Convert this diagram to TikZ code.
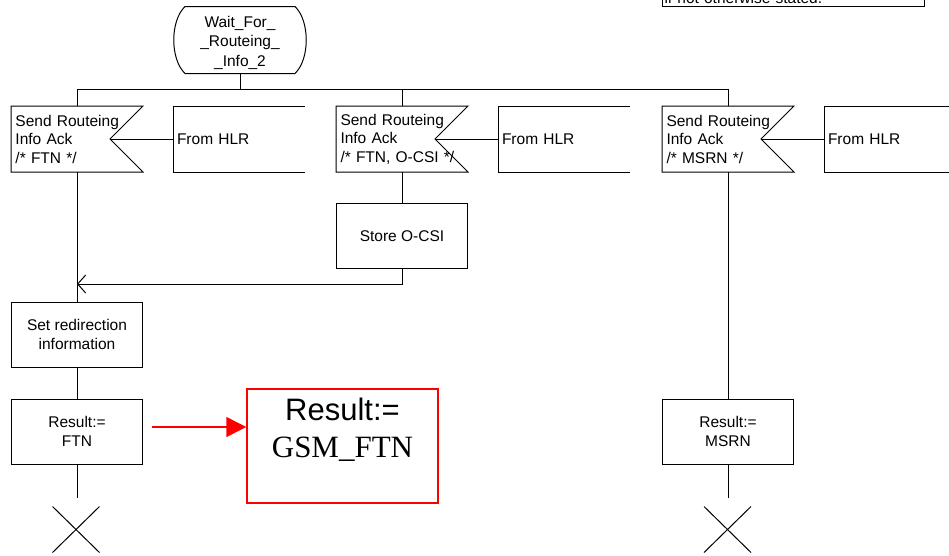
\documentclass[tikz,border=0pt]{standalone}
\usepackage{fontspec}
\setmainfont{Liberation Sans}
\newfontfamily\serifrm{Liberation Serif}
\usetikzlibrary{calc,arrows.meta,shapes.misc}

\begin{document}
\begin{tikzpicture}[x=1pt,y=-1pt,line width=1pt,
  base/.style={font=\fontsize{15.5}{18.5}\selectfont, inner sep=0pt},
  statebox/.style={font=\fontsize{15.5}{19.5}\selectfont, inner sep=0pt, rectangle, minimum width=131pt, minimum height=66pt, align=center},
  inbox/.style={base, rectangle, minimum width=131pt, minimum height=65pt, text width=123pt, inner xsep=4pt, align=left},
  frombox/.style={base, rectangle, minimum width=130pt, minimum height=65pt, text width=124pt, inner xsep=3pt, align=left},
  taskbox/.style={base, draw, rectangle, minimum width=131pt, minimum height=65pt, align=center},
  stopx/.style={cross out, draw, inner sep=0pt, minimum width=46pt, minimum height=45pt},
  joinarrow/.style={-{Straight Barb[length=8pt,width=18pt]}},
  redarrow/.style={draw=red, line width=1.5pt, -{Triangle[length=20pt,width=20pt,fill=red]}},
  notebox/.style={base, draw, rectangle, text width=258pt, inner xsep=2pt, inner ysep=3.5pt, text depth=0pt, align=left, anchor=south west}
]
\useasboundingbox (0,0) rectangle (949,555);
\clip (0,0) rectangle (949,555);

% note box (partly outside the page)
\node[notebox] (note) at (662,7) {if not otherwise stated.};

% state (text sits 2.5px below the centre of its outline)
\node[statebox] (st) at (240,42.5) {Wait\_For\_\\\_Routeing\_\\\_Info\_2};
\draw ($(st.north west)+(11,-2.5)$) -- ($(st.north east)+(-11,-2.5)$)
  .. controls ($(st.north east)+(4,12)$) and ($(st.south east)+(4,-17)$) .. ($(st.south east)+(-11,-2.5)$)
  -- ($(st.south west)+(11,-2.5)$)
  .. controls ($(st.south west)+(-4,-17)$) and ($(st.north west)+(-4,12)$) .. cycle;
\coordinate (st-bottom) at ($(st.south)+(0,-2.5)$);

% inputs
\node[inbox] (in1) at (77,139) {Send Routeing\\Info Ack\\/* FTN */};
\node[inbox] (in2) at (402,139) {Send Routeing\\Info Ack\\/* FTN, O-CSI */};
\node[inbox] (in3) at (728,139) {Send Routeing\\Info Ack\\/* MSRN */};
\foreach \n in {in1,in2,in3}{
  \draw (\n.north west) -- (\n.north east) -- ($(\n.east)+(-33,0)$) -- (\n.south east) -- (\n.south west) -- cycle;
  \coordinate (\n-notch) at ($(\n.east)+(-33,0)$);
}

% from HLR
\node[frombox] (fr1) at (239,139) {From HLR};
\node[frombox] (fr2) at (564,139) {From HLR};
\node[frombox] (fr3) at (890,139) {From HLR};
\foreach \n in {fr1,fr2,fr3}{
  \draw (\n.north east) -- (\n.north west) -- (\n.south west) -- (\n.south east);
}
\draw (in1-notch) -- (fr1.west);
\draw (in2-notch) -- (fr2.west);
\draw (in3-notch) -- (fr3.west);

% tasks
\node[taskbox] (store) at (402,236) {Store O-CSI};
\node[taskbox] (set) at (77,334.5) {Set redirection\\information};
\node[taskbox] (res1) at (77,431.5) {Result:=\\FTN};
\node[taskbox] (res3) at (728,431.5) {Result:=\\MSRN};

% red box
\node[draw=red, line width=1.5pt, rectangle, inner sep=0pt, minimum width=191pt, minimum height=114pt,
      align=center, font=\fontsize{31}{37}\selectfont] (redbox) at (342.5,446)
      {\strut Result:=\\\strut{\serifrm GSM\_FTN}\\\rule[-3.9pt]{0pt}{0pt}};

% stops
\node[stopx] (end1) at (76,529.5) {};
\node[stopx] (end3) at (727.5,529.5) {};

% bar
\coordinate (bar) at (0,89);
\draw (in1.north) -- (in1.north |- bar) -- (in3.north |- bar) -- (in3.north);
\draw (in2.north) -- (in2.north |- bar);
\draw (st-bottom) -- (st-bottom |- bar);

% flows
\coordinate (j) at (77,284);
\draw (in1.south) -- (set.north);
\draw (in2.south) -- (store.north);
\draw[joinarrow] (store.south) -- (store.south |- j) -- (j);
\draw (set.south) -- (res1.north);
\draw (res1.south) -- ++(0,33);
\draw (in3.south) -- (res3.north);
\draw (res3.south) -- ++(0,33);

% red arrow
\coordinate (ra) at (152,427);
\draw[redarrow] (ra) -- (ra -| redbox.west);
\end{tikzpicture}
\end{document}
